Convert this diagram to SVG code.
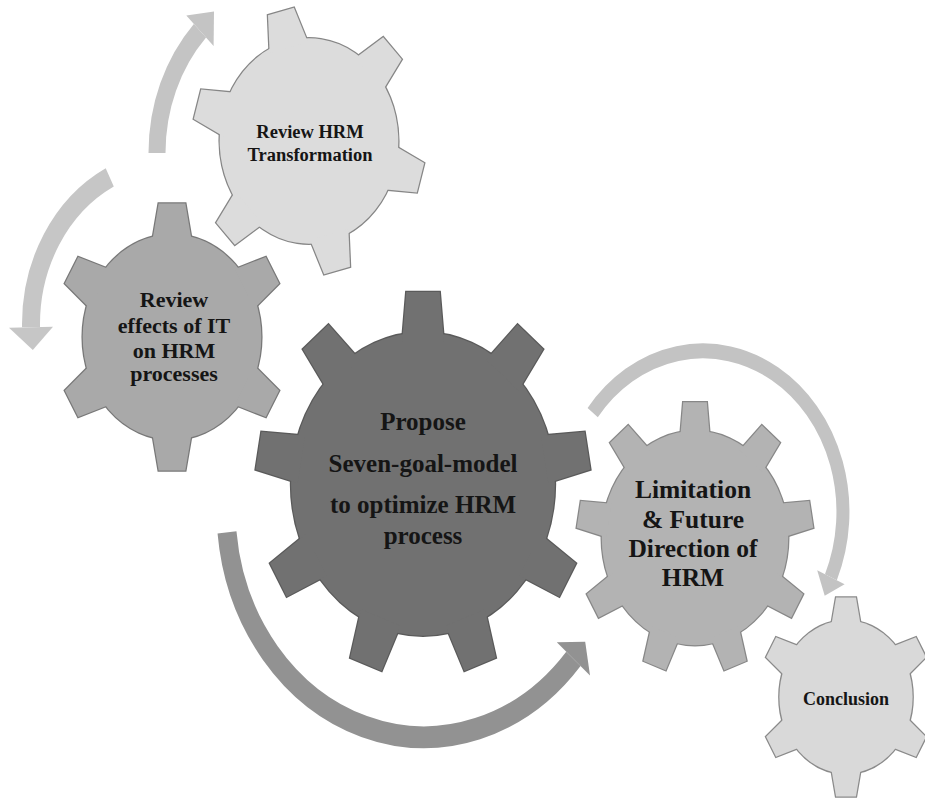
<svg xmlns="http://www.w3.org/2000/svg" xmlns:xlink="http://www.w3.org/1999/xlink" width="925" height="800" viewBox="0 0 925 800">
<style>
  text { font-family: "Liberation Serif", "Times New Roman", serif; font-weight: bold; fill: #151515; text-anchor: middle; }
  .shaft { fill: none; stroke-linecap: butt; }
</style>
<defs>
  <g id="gear6">
    <circle r="77" vector-effect="non-scaling-stroke"/>
    <polygon id="t6" points="-17,-72 17,-72 11.5,-100 -11.5,-100" vector-effect="non-scaling-stroke"/>
    <use href="#t6" transform="rotate(60)"/>
    <use href="#t6" transform="rotate(120)"/>
    <use href="#t6" transform="rotate(180)"/>
    <use href="#t6" transform="rotate(240)"/>
    <use href="#t6" transform="rotate(300)"/>
  </g>
  <g id="gear9">
    <circle r="79" vector-effect="non-scaling-stroke"/>
    <polygon id="t9" points="-12.5,-74 12.5,-74 10,-100 -10,-100" vector-effect="non-scaling-stroke"/>
    <use href="#t9" transform="rotate(40)"/>
    <use href="#t9" transform="rotate(80)"/>
    <use href="#t9" transform="rotate(120)"/>
    <use href="#t9" transform="rotate(160)"/>
    <use href="#t9" transform="rotate(200)"/>
    <use href="#t9" transform="rotate(240)"/>
    <use href="#t9" transform="rotate(280)"/>
    <use href="#t9" transform="rotate(320)"/>
  </g>
</defs>
<rect width="925" height="800" fill="#ffffff"/>

<g id="connectors" transform="scale(1,1.15)">
  <g id="arrow-top">
    <path class="shaft" d="M157,133 A153,153 0 0 1 199.95,26.71" stroke="#c4c4c4" stroke-width="17"/>
    <polygon points="213.6,39.9 186.3,13.5 214,10.1" fill="#c4c4c4"/>
  </g>
  <g id="arrow-left">
    <path class="shaft" d="M109.75,154.24 A143,143 0 0 0 31.02,284.5" stroke="#c6c6c6" stroke-width="18"/>
    <polygon points="53,284.1 9,284.9 32.8,304.4" fill="#c6c6c6"/>
  </g>
  <g id="arrow-bottom">
    <path class="shaft" d="M227,463 A198,198 0 0 0 573.4,572.9" stroke="#929292" stroke-width="19"/>
    <polygon points="556.8,558.5 590,587.3 585.2,558" fill="#929292"/>
  </g>
  <g id="arrow-right">
    <path class="shaft" d="M592.7,358.8 A140,140 0 0 1 830.9,501.9" stroke="#c3c3c3" stroke-width="13"/>
    <polygon points="817.2,495.8 844.6,508 824.7,518.1" fill="#c3c3c3"/>
  </g>
</g>

<g id="node-review-hrm">
  <g transform="translate(309,141) scale(1,1.15) rotate(-14) scale(1.16)">
    <use href="#gear6" fill="#dcdcdc" stroke="#868686" stroke-width="2.5"/>
    <use href="#gear6" fill="#dcdcdc" stroke="none"/>
  </g>
  <text x="310" y="138" font-size="18.5">Review HRM</text>
  <text x="310" y="161" font-size="18.5">Transformation</text>
</g>

<g id="node-review-effects">
  <g transform="translate(172,337) scale(1.16,1.334)">
    <use href="#gear6" fill="#a9a9a9" stroke="#787878" stroke-width="2.5"/>
    <use href="#gear6" fill="#a9a9a9" stroke="none"/>
  </g>
  <text x="174" y="307" font-size="22">Review</text>
  <text x="174" y="333" font-size="22">effects of IT</text>
  <text x="174" y="358" font-size="22">on HRM</text>
  <text x="174" y="381" font-size="22">processes</text>
</g>

<g id="node-propose">
  <g transform="translate(423,484) scale(1.67,1.92)">
    <use href="#gear9" fill="#717171" stroke="#5a5a5a" stroke-width="2.5"/>
    <use href="#gear9" fill="#717171" stroke="none"/>
  </g>
  <text x="423" y="430" font-size="25">Propose</text>
  <text x="423" y="472" font-size="25">Seven-goal-model</text>
  <text x="423" y="513" font-size="25">to optimize HRM</text>
  <text x="423" y="544" font-size="25">process</text>
</g>

<g id="node-limitation">
  <g transform="translate(695,538) scale(1.18,1.357)">
    <use href="#gear9" fill="#b3b3b3" stroke="#878787" stroke-width="2.5"/>
    <use href="#gear9" fill="#b3b3b3" stroke="none"/>
  </g>
  <text x="693" y="498" font-size="25.5">Limitation</text>
  <text x="693" y="528" font-size="25.5">&amp; Future</text>
  <text x="693" y="557" font-size="25.5">Direction of</text>
  <text x="693" y="586" font-size="25.5">HRM</text>
</g>

<g id="node-conclusion">
  <g transform="translate(846,697) scale(0.865,0.995)">
    <use href="#gear6" fill="#d9d9d9" stroke="#8a8a8a" stroke-width="2.5"/>
    <use href="#gear6" fill="#d9d9d9" stroke="none"/>
  </g>
  <text x="846" y="705" font-size="18">Conclusion</text>
</g>
</svg>
